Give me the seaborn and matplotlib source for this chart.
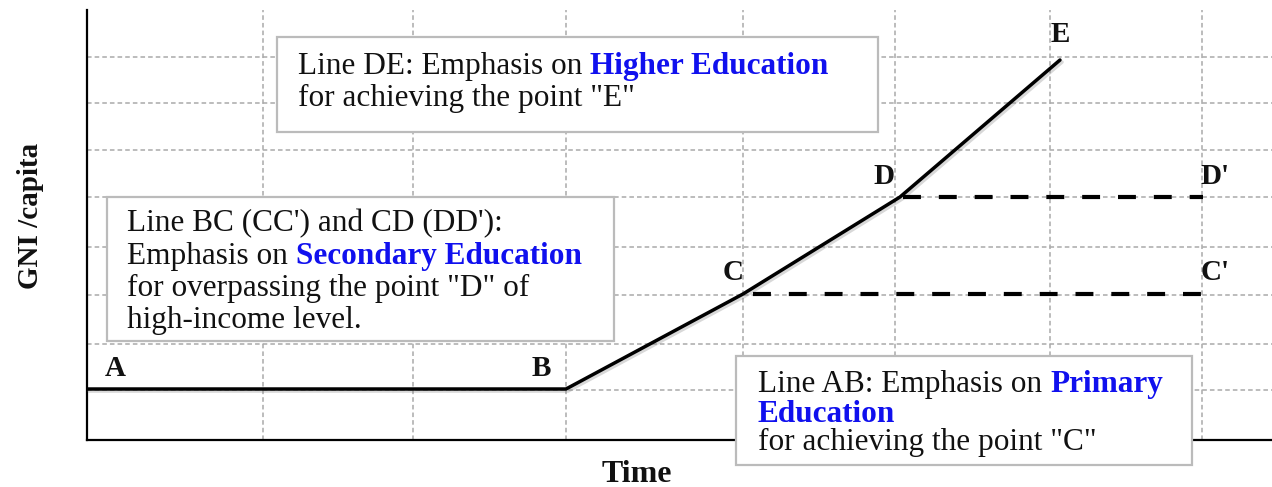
import matplotlib
matplotlib.use("Agg")
import matplotlib.pyplot as plt
import seaborn as sns
import pandas as pd
from matplotlib.patches import Rectangle
from matplotlib.transforms import offset_copy
import matplotlib.patheffects as pe

# ---- data ----
point_names = ["A", "B", "C", "D", "E"]
time_vals = [0.0, 47.9, 65.6, 81.3, 97.3]
gni_vals = [5.1, 5.1, 14.6, 24.3, 38.0]
cc_time = [66.6, 111.6]
cc_gni = [14.6, 14.6]
dd_time = [81.6, 111.6]
dd_gni = [24.3, 24.3]
x_grid = [17.6, 32.6, 47.9, 65.6, 80.8, 96.3, 111.5]
y_grid = [5.0, 9.6, 14.5, 19.3, 24.3, 29.0, 33.7, 38.3]
label_names = ["A", "B", "C", "D", "E", "D'", "C'"]
label_x = [2.8, 45.4, 64.6, 79.7, 97.3, 112.8, 112.8]
label_y = [7.2, 7.2, 16.8, 26.4, 40.6, 26.4, 16.7]

sns.set_style("white")
plt.rcParams["font.family"] = ["Liberation Serif", "DejaVu Serif"]

fig = plt.figure(figsize=(12.72, 4.87), dpi=100)
ax = fig.add_axes([87 / 1272, 47 / 487, 1 - 87 / 1272, 430 / 487])
ax.set_xlim(0, 118.5)
ax.set_ylim(0, 43)

# grid
for gx in x_grid:
    ax.axvline(gx, color="#aaaaaa", lw=1.1, ls=(0, (3, 2)), zorder=0)
for gy in y_grid:
    ax.axhline(gy, color="#aaaaaa", lw=1.1, ls=(0, (3, 2)), zorder=0)

df = pd.DataFrame({"Time": time_vals, "GNI": gni_vals, "pt": point_names})
sns.lineplot(data=df, x="Time", y="GNI", sort=False, color="black", lw=2.5, ax=ax,
             zorder=3,
             path_effects=[pe.SimpleLineShadow(offset=(1.5, -1.5), alpha=0.3,
                                               shadow_color="gray"), pe.Normal()])
ax.plot(cc_time, cc_gni, color="black", lw=3.0, ls=(0, (4.3, 4.3)), zorder=3)
ax.plot(dd_time, dd_gni, color="black", lw=3.0, ls=(0, (4.3, 4.3)), zorder=3)

for s in ["top", "right"]:
    ax.spines[s].set_visible(False)
for s in ["left", "bottom"]:
    ax.spines[s].set_color("black")
    ax.spines[s].set_linewidth(1.6)
ax.set_xticks([])
ax.set_yticks([])
ax.set_xlabel("")
ax.set_ylabel("")

for n, lx, ly in zip(label_names, label_x, label_y):
    ax.text(lx, ly, n, ha="center", va="center", fontsize=21, fontweight="bold",
            color="#111111", zorder=4)

fig.text(30 / 1272, 1 - 216 / 487, "GNI /capita", rotation=90, ha="center", va="center",
         fontsize=21, fontweight="bold", color="#111111")
fig.text(637 / 1272, 1 - 474 / 487, "Time", ha="center", va="center",
         fontsize=23, fontweight="bold", color="#111111")

# text boxes
boxes = [
    (19.0, 30.8, 60.1, 9.5),
    (2.0, 9.9, 50.7, 14.4),
    (64.9, -2.5, 45.6, 10.9),
]
rects = []
for bx, by, bw, bh in boxes:
    r = Rectangle((bx, by), bw, bh, facecolor="white", edgecolor="#bbbbbb", lw=1.6,
                  zorder=5, clip_on=False)
    ax.add_patch(r)
    rects.append(r)

# inner text frame of the lower box (its last line is cut off)
inner = Rectangle((64.9, -1.25), 45.6, 9.65, fill=False, lw=0)
inner_path = inner.get_path().transformed(inner.get_patch_transform())

BLUE = "#1010ee"
FS = 22.5
renderer = fig.canvas.get_renderer()

def rich_line(x, y, parts, clip=None):
    dx = 0.0
    for txt, bold in parts:
        t = ax.text(x, y, txt, transform=offset_copy(ax.transData, fig=fig, x=dx, y=0, units="dots"),
                    ha="left", va="baseline", fontsize=FS,
                    fontweight="bold" if bold else "normal",
                    color=BLUE if bold else "#111111", zorder=6)
        if clip is not None:
            t.set_clip_on(True)
            t.set_clip_box(None)
            t.set_clip_path(clip, ax.transData)
        else:
            t.set_clip_on(False)
        dx += t.get_window_extent(renderer).width

rich_line(21.1, 36.6, [("Line DE: Emphasis on ", False), ("Higher Education", True)])
rich_line(21.1, 33.4, [('for achieving the point "E"', False)])

rich_line(4.0, 20.9, [("Line BC (CC') and CD (DD'):", False)])
rich_line(4.0, 17.6, [("Emphasis on ", False), ("Secondary Education", True)])
rich_line(4.0, 14.4, [('for overpassing the point "D" of', False)])
rich_line(4.0, 11.2, [("high-income level.", False)])

rich_line(67.1, 4.8, [("Line AB: Emphasis on ", False), ("Primary", True)])
rich_line(67.1, 1.8, [("Education", True)])
rich_line(67.1, -1.0, [('for achieving the point "C"', False)], clip=inner_path)

fig.savefig("out.png", dpi=100)
